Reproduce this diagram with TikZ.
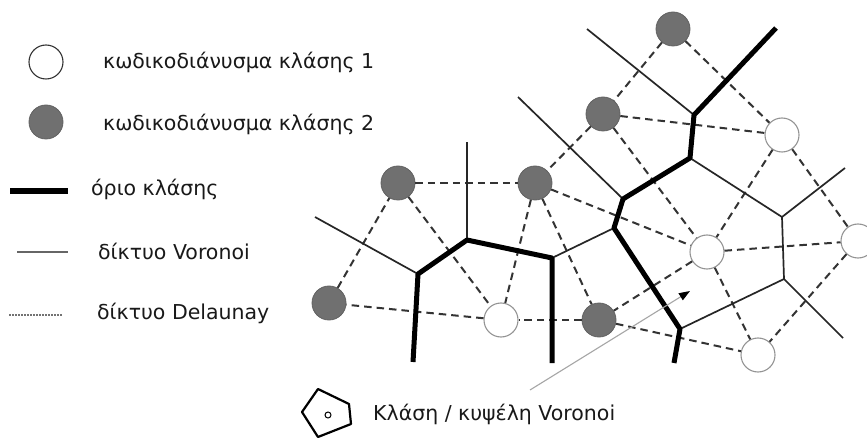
\documentclass[tikz,border=0pt]{standalone}
\usepackage{fontspec}
\setmainfont{DejaVu Sans}
\usetikzlibrary{arrows.meta}
\definecolor{gfill}{RGB}{112,112,112}
\definecolor{txt}{RGB}{25,25,25}
\begin{document}
\begin{tikzpicture}[x=1pt,y=-1pt,
 cone/.style={circle,draw=black!42,fill=white,line width=1.1pt,minimum size=34pt,inner sep=0pt},
 ctwo/.style={circle,draw=black!62,fill=gfill,line width=0.8pt,minimum size=34pt,inner sep=0pt},
 del/.style={dash pattern=on 7.5pt off 5pt, line width=2pt, black!80},
 vor/.style={line width=1.7pt, black!85},
 bnd/.style={line width=5pt, black, line join=round},
 lbl/.style={anchor=west, font=\fontsize{20.5}{22}\selectfont, inner sep=0pt, text=txt}]
\useasboundingbox (0,0) rectangle (867,438);
\fill[white] (0,0) rectangle (867,438);
% codebook vectors
\node[ctwo] (G1) at (673,29) {};
\node[ctwo] (G2) at (603,114) {};
\node[ctwo] (G3) at (398,183) {};
\node[ctwo] (G4) at (535,183) {};
\node[ctwo] (G5) at (329,303) {};
\node[ctwo] (G6) at (599,320) {};
\node[cone] (W1) at (782,135) {};
\node[cone] (W2) at (707,252) {};
\node[cone] (W3) at (501,320) {};
\node[cone] (W4) at (858,241) {};
\node[cone] (W5) at (758,355) {};
% Delaunay
\draw[del] (G1) -- (G2);
\draw[del] (G1) -- (W1);
\draw[del] (G2) -- (W1);
\draw[del] (G2) -- (G4);
\draw[del] (G2) -- (W2);
\draw[del] (G3) -- (G4);
\draw[del] (G4) -- (W2);
\draw[del] (W1) -- (W2);
\draw[del] (W1) -- (W4);
\draw[del] (W2) -- (W4);
\draw[del] (W4) -- (W5);
\draw[del] (W2) -- (W5);
\draw[del] (W2) -- (G6);
\draw[del] (G6) -- (W5);
\draw[del] (G6) -- (W3);
\draw[del] (W3) -- (G5);
\draw[del] (G5) -- (G3);
\draw[del] (G3) -- (W3);
\draw[del] (G4) -- (W3);
\draw[del] (G4) -- (G6);
% Voronoi vertices
\coordinate (A) at (694,115);
\coordinate (B) at (690,158);
\coordinate (C) at (623,199);
\coordinate (D) at (614,228);
\coordinate (E) at (680,329);
\coordinate (F) at (418,274);
\coordinate (G) at (467,240);
\coordinate (H) at (552,258);
\coordinate (I) at (782,217);
\coordinate (J) at (784,279);
\coordinate (tA) at (776,28);
\coordinate (eE) at (674,363);
\coordinate (eF) at (413,362);
\coordinate (eH) at (552,363);
\coordinate (vG) at (467,142);
\coordinate (vF) at (315,217);
\coordinate (vC) at (518,97);
\coordinate (vA) at (587,29);
\coordinate (vI) at (845,168);
\coordinate (vJ) at (843,338);
% Voronoi edges
\draw[vor] (G) -- (vG);
\draw[vor] (F) -- (vF);
\draw[vor] (H) -- (D);
\draw[vor] (C) -- (vC);
\draw[vor] (A) -- (vA);
\draw[vor] (B) -- (I) -- (vI);
\draw[vor] (I) -- (J) -- (E);
\draw[vor] (J) -- (vJ);
% class boundary
\draw[bnd] (tA) -- (A) -- (B) -- (C) -- (D) -- (E) -- (eE);
\draw[bnd] (eF) -- (F) -- (G) -- (H) -- (eH);
% pointer
\coordinate (pS) at (530,390);
\coordinate (pT) at (690,291);
\draw[black!35, line width=1.1pt, -{Triangle[length=11pt,width=8pt,fill=black,color=black]}] (pS) -- (pT);
% legend
\node[cone, draw=black!80] (L1) at (46,62) {};
\node[lbl] (T1) at (103,62) {κωδικοδιάνυσμα κλάσης 1};
\node[ctwo] (L2) at (46,122) {};
\node[lbl] (T2) at (103,124) {κωδικοδιάνυσμα κλάσης 2};
\coordinate (L3a) at (10,191);
\coordinate (L3b) at (68,191);
\draw[bnd, line width=5.5pt] (L3a) -- (L3b);
\node[lbl] (T3) at (91,189) {όριο κλάσης};
\coordinate (L4a) at (17,252);
\coordinate (L4b) at (68,252);
\draw[vor, black!60] (L4a) -- (L4b);
\node[lbl] (T4) at (98,251) {δίκτυο Voronoi};
\coordinate (L5a) at (9,315);
\coordinate (L5b) at (63,315);
\draw[black!55, line width=1.5pt, dash pattern=on 1.5pt off 1.5pt] (L5a) -- (L5b);
\node[lbl] (T5) at (97,313) {δίκτυο Delaunay};
% cell icon
\draw[line width=2.2pt, line join=round] (318,389) -- (349,404) -- (351,424) -- (318,437) -- (302,412) -- cycle;
\node[circle, draw, line width=1pt, minimum size=6pt, inner sep=0pt] (ic) at (328,415) {};
\node[lbl] (T6) at (373,414) {Κλάση / κυψέλη Voronoi};
\end{tikzpicture}
\end{document}
